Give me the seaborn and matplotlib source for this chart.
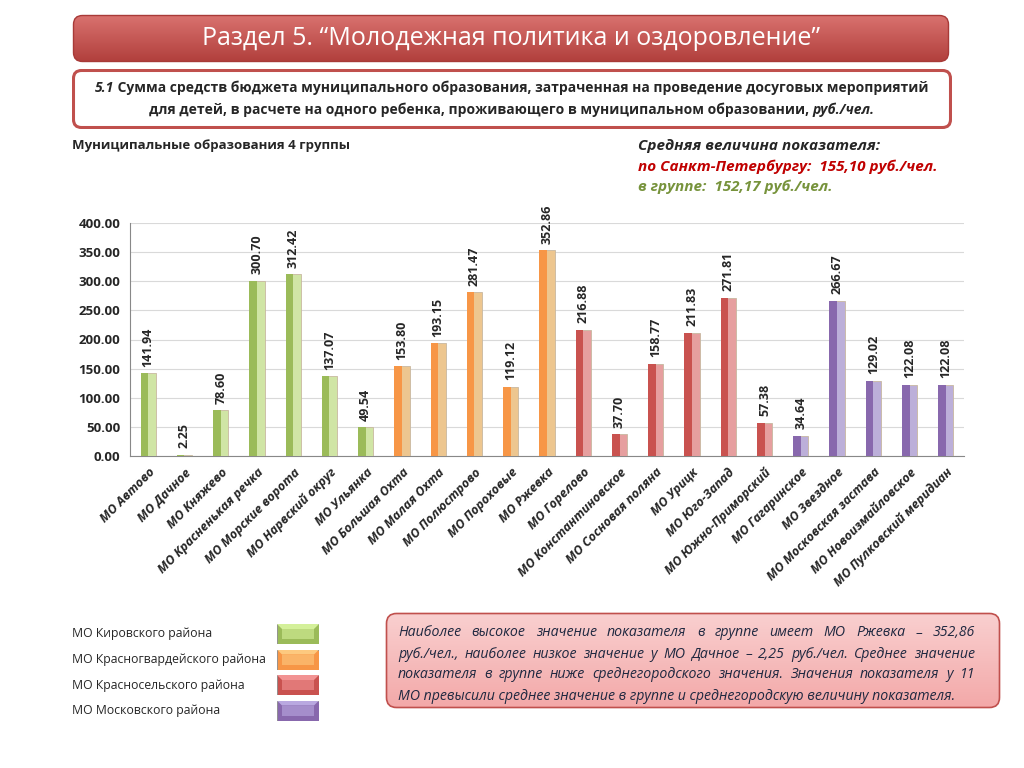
import numpy as np
import pandas as pd
import matplotlib
matplotlib.use('Agg')
import matplotlib.pyplot as plt
import seaborn as sns
from matplotlib.patches import FancyBboxPatch, Rectangle, Polygon
from matplotlib.colors import LinearSegmentedColormap

# data
districts = ['МО Автово', 'МО Дачное', 'МО Княжево', 'МО Красненькая речка', 'МО Морские ворота',
             'МО Нарвский округ', 'МО Ульянка', 'МО Большая Охта', 'МО Малая Охта', 'МО Полюстрово',
             'МО Пороховые', 'МО Ржевка', 'МО Горелово', 'МО Константиновское', 'МО Сосновая поляна',
             'МО Урицк', 'МО Юго-Запад', 'МО Южно-Приморский', 'МО Гагаринское', 'МО Звездное',
             'МО Московская застава', 'МО Новоизмайловское', 'МО Пулковский меридиан']
values = [141.94, 2.25, 78.60, 300.70, 312.42, 137.07, 49.54, 153.80, 193.15, 281.47, 119.12, 352.86,
          216.88, 37.70, 158.77, 211.83, 271.81, 57.38, 34.64, 266.67, 129.02, 122.08, 122.08]
groups = ['Кировский'] * 7 + ['Красногвардейский'] * 5 + ['Красносельский'] * 6 + ['Московский'] * 5
group_names = ['Кировский', 'Красногвардейский', 'Красносельский', 'Московский']
legend_labels = ['МО Кировского района', 'МО Красногвардейского района',
                 'МО Красносельского района', 'МО Московского района']
light = {'Кировский': '#d4f09a', 'Красногвардейский': '#fdc97f',
         'Красносельский': '#f29393', 'Московский': '#b9a8e0'}
dark = {'Кировский': '#9bbb59', 'Красногвардейский': '#f79646',
        'Красносельский': '#c9524f', 'Московский': '#8868ad'}
yticks = np.arange(0, 401, 50)

df = pd.DataFrame({'district': districts, 'value': values, 'group': groups})

sns.set_style('white')
plt.rcParams['font.family'] = ['Open Sans', 'DejaVu Sans']

fig = plt.figure(figsize=(10.24, 7.68), dpi=100)
W, H = 1024, 768
renderer = fig.canvas.get_renderer()


def frac(x0, y0, x1, y1):
    return [x0 / W, 1 - y1 / H, (x1 - x0) / W, (y1 - y0) / H]


def gradient_box(x0, y0, x1, y1, top, bottom, edge=None, lw=1.0, rad=10):
    bx = fig.add_axes(frac(x0, y0, x1, y1))
    bx.set_axis_off()
    w, h = x1 - x0, y1 - y0
    bx.set_xlim(0, w)
    bx.set_ylim(0, h)
    cmap = LinearSegmentedColormap.from_list('g', [bottom, top])
    img = bx.imshow(np.linspace(0, 1, 100).reshape(-1, 1), extent=[0, w, 0, h],
                    origin='lower', cmap=cmap, aspect='auto')
    patch = FancyBboxPatch((1.5, 1.5), w - 3, h - 3,
                           boxstyle=f'round,pad=0,rounding_size={rad}',
                           fc='none', ec=edge if edge else 'none', lw=lw)
    bx.add_patch(patch)
    img.set_clip_path(patch)
    return bx


def runs_centered(bx, xc, y, runs, **kw):
    # runs: list of (text, style dict); placed one after another, centred at xc
    arts = [bx.text(0, y, s, va='center', ha='left', **kw, **st) for s, st in runs]
    widths = [a.get_window_extent(renderer).width for a in arts]
    x = xc - sum(widths) / 2
    for a, w in zip(arts, widths):
        a.set_x(x)
        x += w


def justified(bx, x0, x1, y, line, **kw):
    words = line.split()
    arts = [bx.text(0, y, w, va='center', ha='left', **kw) for w in words]
    widths = [a.get_window_extent(renderer).width for a in arts]
    gap = (x1 - x0 - sum(widths)) / (len(words) - 1)
    x = x0
    for a, w in zip(arts, widths):
        a.set_x(x)
        x += w + gap


# title bar
tb = gradient_box(72, 14, 950, 63, '#da7370', '#b03e3b', edge='#a83a38', lw=1, rad=9)
tb.text(0.5, 0.5, 'Раздел 5. “Молодежная политика и оздоровление”', transform=tb.transAxes,
        ha='center', va='center', color='white', fontsize=18)

# subtitle box
sb = gradient_box(72, 69, 952, 129, '#ffffff', '#ffffff', edge='#c0504d', lw=2.2, rad=8)
sw = 952 - 72
runs_centered(sb, sw / 2, 41, [('5.1', {'style': 'italic', 'weight': 'bold'}),
                               (' Сумма средств бюджета муниципального образования, затраченная на проведение досуговых мероприятий',
                                {'weight': 'bold'})], fontsize=10)
runs_centered(sb, sw / 2, 19, [('для детей, в расчете на одного ребенка, проживающего в муниципальном образовании, ',
                                {'weight': 'bold'}),
                               ('руб./чел.', {'style': 'italic', 'weight': 'bold'})], fontsize=10)

# header texts
fig.text(72 / W, 1 - 145 / H, 'Муниципальные образования 4 группы', fontsize=9.5, weight='bold',
         va='center')
fig.text(638 / W, 1 - 146 / H, 'Средняя величина показателя:', fontsize=11, weight='bold',
         style='italic', va='center')
fig.text(638 / W, 1 - 167 / H, 'по Санкт-Петербургу:  155,10 руб./чел.', fontsize=11, weight='bold',
         style='italic', va='center', color='#c00000')
fig.text(638 / W, 1 - 187 / H, 'в группе:  152,17 руб./чел.', fontsize=11, weight='bold',
         style='italic', va='center', color='#77933c')

# chart
ax = fig.add_axes(frac(130, 223, 964, 456))
bw = 0.42
sns.barplot(data=df, x='district', y='value', hue='group', palette=light, dodge=False,
            width=bw, legend=False, ax=ax, edgecolor='#c8b8a0', linewidth=0.6, zorder=3)
xs = np.arange(len(districts))
ax.bar(xs - bw / 4, values, width=bw / 2, color=[dark[g] for g in groups], linewidth=0, zorder=4)
for x, v in zip(xs, values):
    ax.text(x, v + 11, f'{v:.2f}', rotation=90, ha='center', va='bottom', fontsize=9,
            weight='bold', clip_on=False, zorder=5)

ax.set_xlim(-0.5, len(districts) - 0.5)
ax.set_ylim(0, 400)
ax.set_yticks(yticks)
ax.set_yticklabels([f'{t:.2f}' for t in yticks], fontsize=9.5, weight='bold')
ax.yaxis.grid(True, color='#d9d9d9', lw=0.8, zorder=0)
ax.set_axisbelow(True)
ax.set_xlabel('')
ax.set_ylabel('')
ax.set_xticks(xs)
ax.set_xticklabels(districts, rotation=45, ha='right', rotation_mode='anchor', fontsize=9,
                   weight='bold', style='italic')
ax.set_xticks(np.arange(-0.5, len(districts), 1), minor=True)
ax.tick_params(axis='x', which='major', length=0, pad=7)
ax.tick_params(axis='x', which='minor', length=5, color='#888888', direction='out')
ax.tick_params(axis='y', length=4, color='#888888', direction='out', pad=3)
for s in ['top', 'right']:
    ax.spines[s].set_visible(False)
ax.spines['left'].set_color('#888888')
ax.spines['bottom'].set_color('#888888')

# legend
for i, (lab, g) in enumerate(zip(legend_labels, group_names)):
    yc = 634 + i * 25.5
    fig.text(72 / W, 1 - yc / H, lab, fontsize=8.8, va='center')
    lx = fig.add_axes(frac(277, yc - 10, 319, yc + 10))
    lx.set_axis_off()
    lx.set_xlim(0, 1)
    lx.set_ylim(0, 1)
    lx.add_patch(Rectangle((0, 0), 1, 1, fc=dark[g], ec='#888888', lw=0.6))
    lx.add_patch(Polygon([(0, 1), (1, 1), (0.88, 0.75), (0.12, 0.75)], fc=light[g], ec='none'))
    lx.add_patch(Rectangle((0.12, 0.25), 0.76, 0.5, fc=light[g], ec='none', alpha=0.6))

# comment box
cb = gradient_box(385, 612, 1001, 709, '#f9d0d0', '#f3a8a8', edge='#c0504d', lw=1.2, rad=10)
lines = ['Наиболее высокое значение показателя в группе имеет МО Ржевка – 352,86',
         'руб./чел., наиболее низкое значение у МО Дачное – 2,25 руб./чел. Среднее значение',
         'показателя в группе ниже среднегородского значения. Значения показателя у 11',
         'МО превысили среднее значение в группе и среднегородскую величину показателя.']
txt_style = dict(fontsize=10.2, style='italic', color='#1f2840')
for i, line in enumerate(lines):
    y = 97 - (21 + i * 21)
    if i < len(lines) - 1:
        justified(cb, 13, 590, y, line, **txt_style)
    else:
        cb.text(13, y, line, va='center', ha='left', **txt_style)

fig.savefig('out.png', dpi=100)
